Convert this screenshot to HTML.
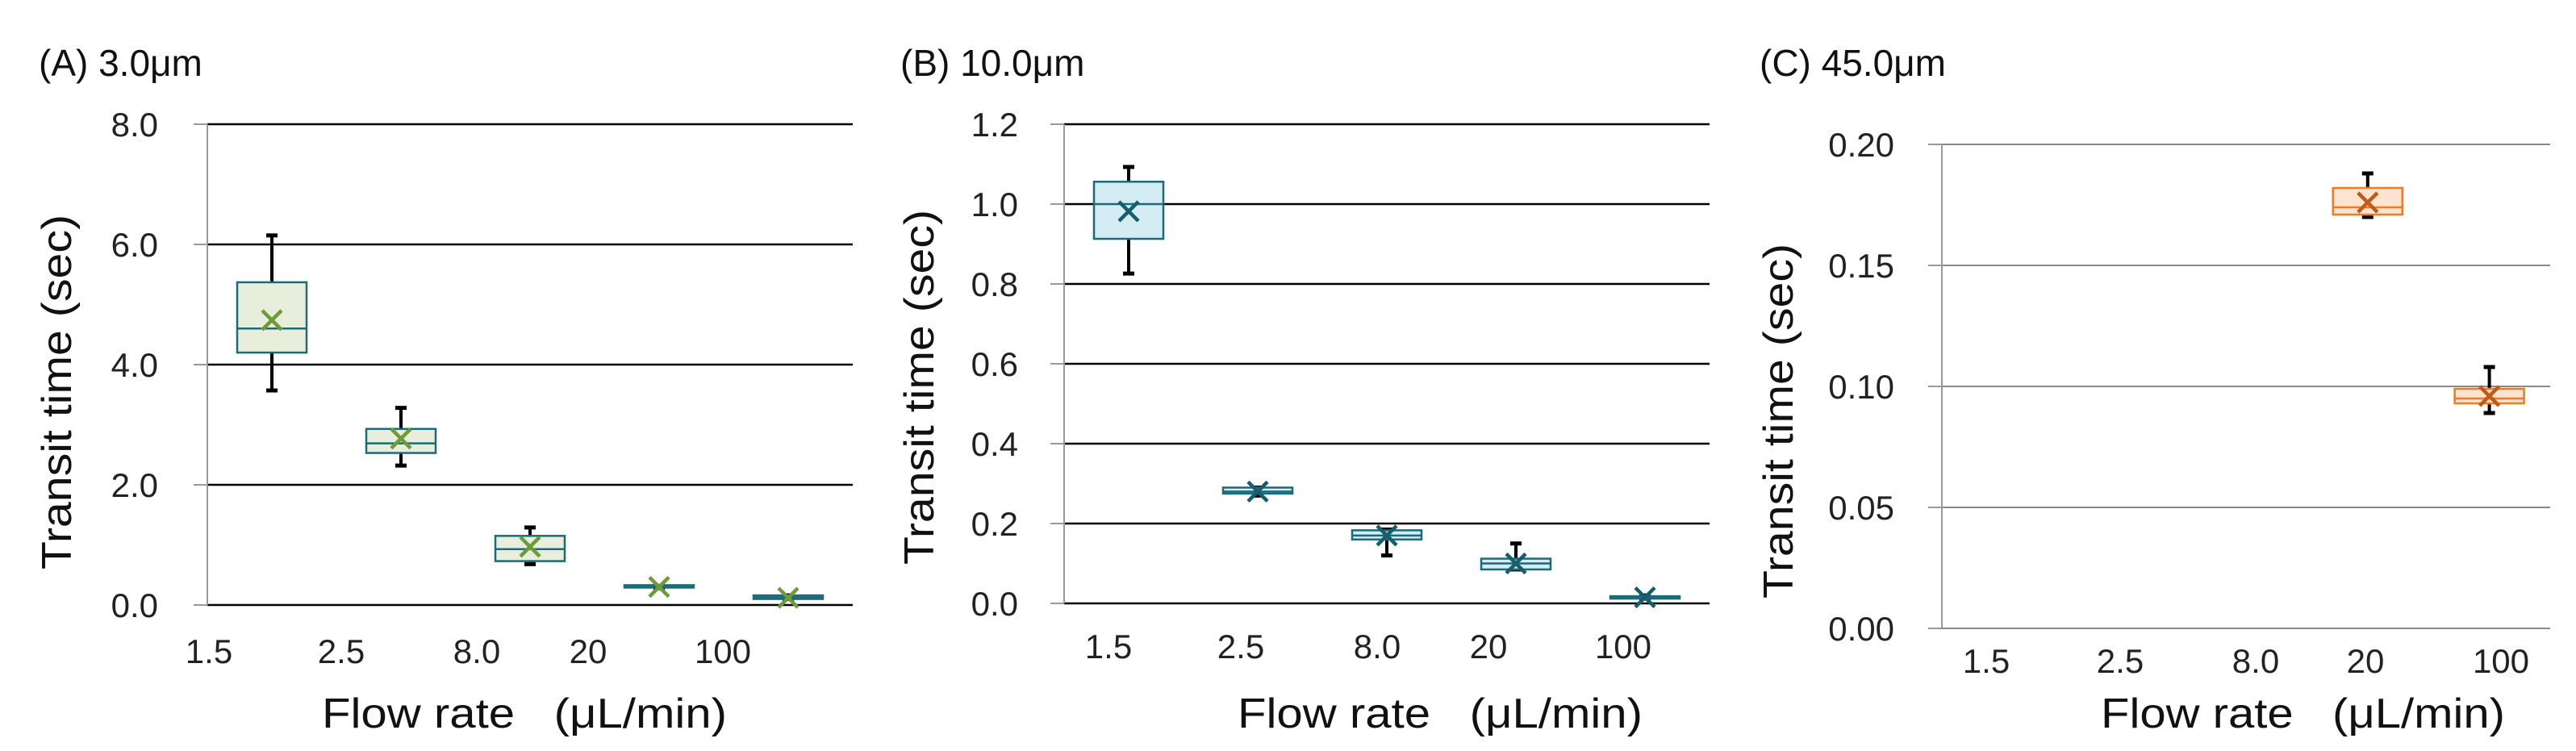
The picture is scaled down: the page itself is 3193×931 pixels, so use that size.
<!DOCTYPE html>
<html><head><meta charset="utf-8"><style>
html,body{margin:0;padding:0;background:#fff;}
svg{display:block;font-family:"Liberation Sans",sans-serif;}
</style></head><body>
<svg id="fig" width="3193" height="931" viewBox="0 0 3193 931" xmlns="http://www.w3.org/2000/svg"></svg>
<script>
const categories = ["1.5","2.5","8.0","20","100"];
// Panel A (3.0um)
const aTicks = ["0.0","2.0","4.0","6.0","8.0"];
const aTickVals = [0,2,4,6,8];
const aWhiskerHigh = [6.15,3.28,1.29,0.32,0.16];
const aQ3 = [5.37,2.93,1.15,0.33,0.16];
const aMedian = [4.6,2.69,0.93,0.31,0.13];
const aQ1 = [4.2,2.53,0.73,0.29,0.10];
const aWhiskerLow = [3.57,2.32,0.68,0.28,0.10];
const aMean = [4.74,2.77,0.97,0.30,0.12];
// Panel B (10.0um)
const bTicks = ["0.0","0.2","0.4","0.6","0.8","1.0","1.2"];
const bTickVals = [0,0.2,0.4,0.6,0.8,1.0,1.2];
const bWhiskerHigh = [1.093,0.29,0.185,0.15,0.02];
const bQ3 = [1.056,0.29,0.183,0.112,0.018];
const bMedian = [1.0,0.28,0.17,0.1,0.015];
const bQ1 = [0.913,0.275,0.16,0.085,0.012];
const bWhiskerLow = [0.826,0.27,0.12,0.085,0.012];
const bMean = [0.982,0.28,0.17,0.1,0.015];
// Panel C (45.0um) - only 20 and 100 have data
const cTicks = ["0.00","0.05","0.10","0.15","0.20"];
const cTickVals = [0,0.05,0.10,0.15,0.20];
const cWhiskerHigh = [null,null,null,0.188,0.108];
const cQ3 = [null,null,null,0.182,0.099];
const cMedian = [null,null,null,0.174,0.095];
const cQ1 = [null,null,null,0.171,0.093];
const cWhiskerLow = [null,null,null,0.170,0.089];
const cMean = [null,null,null,0.176,0.096];

const NS="http://www.w3.org/2000/svg";
const svg=document.getElementById('fig');
function mk(tag,attrs,parent){const e=document.createElementNS(NS,tag);for(const k in attrs)e.setAttribute(k,attrs[k]);(parent||svg).appendChild(e);return e;}

function panel(cfg){
  const g=mk('g',{});
  
  
  const x0=cfg.x0,x1=cfg.x1,yTop=cfg.yTop,yBot=cfg.yBot,vmax=cfg.vmax;
  const yS=v=>yBot-(v/vmax)*(yBot-yTop);
  const bw=(x1-x0)/categories.length;
  const xC=i=>x0+bw*(i+0.5);
  const t=mk('text',{x:cfg.titleX,y:94,'font-size':46,fill:'#111'},g);
  t.textContent=cfg.title;
  
  
  cfg.tickVals.forEach((v,i)=>{
    const y=yS(v);
    const gl=mk('line',{x1:x0,x2:x1,y1:y,y2:y,stroke:cfg.grid,'stroke-width':cfg.gridW},g);
    
    
    mk('line',{x1:x0-17,x2:x0,y1:y,y2:y,stroke:'#999','stroke-width':2},g);
    const tl=mk('text',{x:cfg.tickRight,y:y+15,'font-size':42,fill:'#222','text-anchor':'end'},g);
    tl.textContent=cfg.ticks[i];
    
    
  });
  const ax=mk('line',{x1:x0,x2:x0,y1:yTop,y2:yBot,stroke:'#999','stroke-width':2},g);
  
  
  categories.forEach((c,i)=>{
    const xl=mk('text',{x:cfg.labelX[i],y:cfg.labelY,'font-size':42,fill:'#222','text-anchor':'middle'},g);
    xl.textContent=c;
    
    
  });
  const yt=mk('text',{x:0,y:0,'font-size':52,fill:'#111','text-anchor':'middle',transform:`translate(${cfg.yTitleX},${cfg.yTitleY}) rotate(-90)`,textLength:cfg.yTitleLen,lengthAdjust:'spacingAndGlyphs'},g);
  yt.textContent='Transit time (sec)';
  
  
  const xt=mk('text',{x:cfg.xTitleX,y:902,'font-size':52,fill:'#111',textLength:cfg.xTitleLen,lengthAdjust:'spacingAndGlyphs'},g);
  xt.textContent='Flow rate\u00a0\u00a0\u00a0(\u03bcL/min)';
  
  
  const hw=43;
  categories.forEach((c,i)=>{
    if(cfg.q3[i]==null)return;
    const cx=xC(i);
    const bg=mk('g',{},g);
    
    
    const wh=yS(cfg.wh[i]),wl=yS(cfg.wl[i]),q3=yS(cfg.q3[i]),q1=yS(cfg.q1[i]),md=yS(cfg.md[i]),mn=yS(cfg.mn[i]);
    mk('line',{x1:cx,x2:cx,y1:wh,y2:q3,stroke:'#000','stroke-width':4},bg);
    mk('line',{x1:cx,x2:cx,y1:q1,y2:wl,stroke:'#000','stroke-width':4},bg);
    mk('line',{x1:cx-7,x2:cx+7,y1:wh,y2:wh,stroke:'#000','stroke-width':5},bg);
    mk('line',{x1:cx-7,x2:cx+7,y1:wl,y2:wl,stroke:'#000','stroke-width':5},bg);
    const h=Math.max(q1-q3,3);
    mk('rect',{x:cx-hw,y:q3,width:2*hw,height:h,fill:cfg.fill,stroke:cfg.stroke,'stroke-width':2.5},bg);
    mk('line',{x1:cx-hw,x2:cx+hw,y1:md,y2:md,stroke:cfg.stroke,'stroke-width':2.5},bg);
    const s=12;
    mk('path',{d:`M${cx-s},${mn-s}L${cx+s},${mn+s}M${cx+s},${mn-s}L${cx-s},${mn+s}`,stroke:cfg.mark,'stroke-width':4.5,fill:'none'},bg);
  });
}

panel({name:'panel-a-3um',title:'(A) 3.0\u03bcm',titleX:48,x0:257,x1:1057,yTop:154,yBot:750,vmax:8,
  ticks:aTicks,tickVals:aTickVals,tickRight:196,grid:'#000',gridW:2.5,
  labelX:[259,423,591,729,896],labelY:822,yTitleX:88,yTitleY:486,yTitleLen:440,xTitleX:399,xTitleLen:502,
  wh:aWhiskerHigh,q3:aQ3,md:aMedian,q1:aQ1,wl:aWhiskerLow,mn:aMean,
  fill:'#e7efdc',stroke:'#1b6b78',mark:'#6e9b3a'});
panel({name:'panel-b-10um',title:'(B) 10.0\u03bcm',titleX:1116,x0:1319,x1:2119,yTop:154,yBot:748,vmax:1.2,
  ticks:bTicks,tickVals:bTickVals,tickRight:1262,grid:'#000',gridW:2.5,
  labelX:[1374,1538,1707,1845,2012],labelY:816,yTitleX:1157,yTitleY:480,yTitleLen:440,xTitleX:1534,xTitleLen:502,
  wh:bWhiskerHigh,q3:bQ3,md:bMedian,q1:bQ1,wl:bWhiskerLow,mn:bMean,
  fill:'#d4ecf3',stroke:'#1b6a78',mark:'#165e6b'});
panel({name:'panel-c-45um',title:'(C) 45.0\u03bcm',titleX:2181,x0:2407,x1:3161,yTop:179,yBot:779,vmax:0.2,
  ticks:cTicks,tickVals:cTickVals,tickRight:2348,grid:'#888',gridW:2,
  labelX:[2462,2628,2796,2932,3100],labelY:834,yTitleX:2222,yTitleY:522,yTitleLen:440,xTitleX:2604,xTitleLen:501,
  wh:cWhiskerHigh,q3:cQ3,md:cMedian,q1:cQ1,wl:cWhiskerLow,mn:cMean,
  fill:'#fde4d2',stroke:'#f07b22',mark:'#c05a16'});
</script>
</body></html>
